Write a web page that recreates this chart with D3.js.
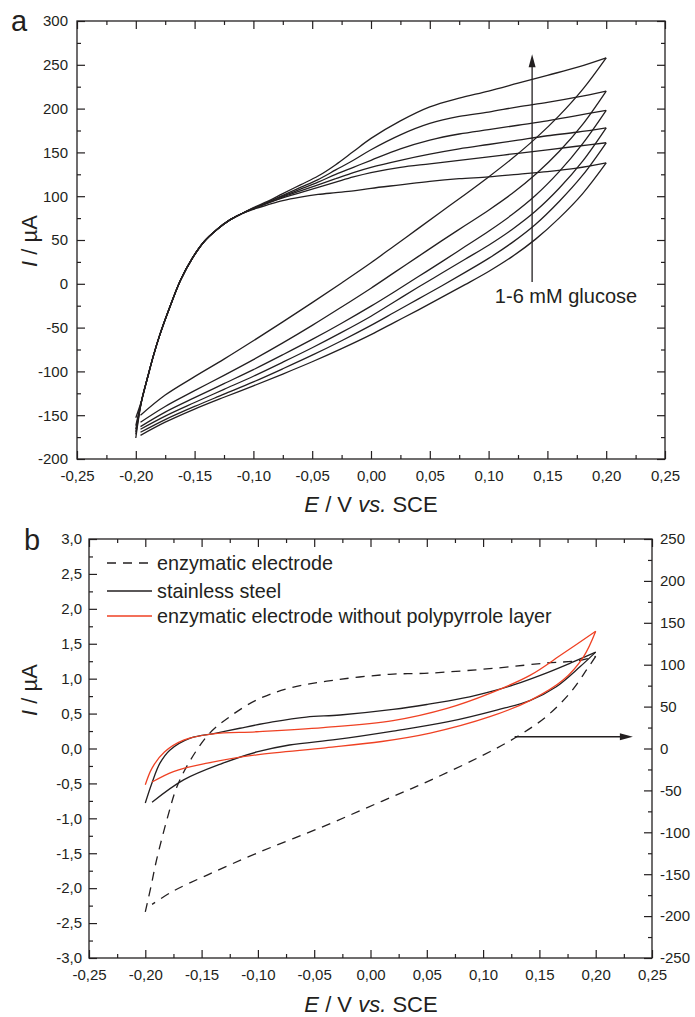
<!DOCTYPE html>
<html>
<head>
<meta charset="utf-8">
<script src="https://cdn.jsdelivr.net/npm/d3@7"></script>
<style>
  body{ margin:0; background:#fff; }
  text{ font-family:"Liberation Sans", Arial, sans-serif; fill:#231f20; }
</style>
</head>
<body>
<script>
// - - - - - DATA: panel a (6 CVs, 1-6 mM glucose) - - - - -
// forward scan (-0.2 -> 0.2 V)
var aUpE = [-0.2, -0.195, -0.19, -0.185, -0.18, -0.172, -0.162, -0.152, -0.142, -0.131, -0.12, -0.11,
            -0.1, -0.088, -0.075, -0.06, -0.045, -0.03, -0.015, 0, 0.025, 0.05, 0.075, 0.1, 0.125, 0.15, 0.175, 0.2];
var aUpStart = [-176, -172, -169, -166, -162, -153];
var aUpCommon = [-133, -107, -82, -60, -30, 4, 29, 48, 62, 73, 80];
var aUpTail = [
  [85, 90, 95, 99, 102, 104, 106, 109, 113, 117, 120, 122, 125, 128, 132, 138],
  [86, 92, 98, 104, 110, 116, 122, 127, 133, 137, 141, 145, 149, 153, 157, 161],
  [86, 92, 99, 106, 113, 120, 127, 133, 141, 148, 154, 159, 164, 169, 173, 178],
  [86, 93, 100, 108, 116, 125, 133, 141, 154, 164, 171, 176, 181, 186, 192, 198],
  [86, 93, 101, 110, 119, 130, 141, 153, 170, 183, 191, 196, 202, 207, 213, 220],
  [87, 94, 103, 113, 123, 136, 151, 166, 186, 202, 212, 220, 229, 238, 247, 258]
];
// reverse scan (0.2 -> -0.2 V)
var aDownE = [0.2, 0.18, 0.16, 0.14, 0.12, 0.1, 0.08, 0.06, 0.04, 0.02, 0, -0.025, -0.05, -0.075, -0.1, -0.125, -0.15, -0.175, -0.196];
var aDown = [
  [138, 103, 75, 51, 31, 14, -1, -15.5, -30, -44, -58, -74, -89, -103, -116.5, -129.5, -143, -158, -173],
  [161, 124, 94, 68, 47, 29, 13, -2.5, -17.5, -32.5, -47.5, -65, -81.5, -97, -112, -126, -140, -155, -169.5],
  [178, 140, 109, 83, 62, 44, 28, 12, -4, -20.5, -37, -55.5, -73, -89.5, -105.5, -120.5, -135.5, -151, -166],
  [198, 160, 128, 101, 79, 60, 42.5, 25, 8, -9, -25.5, -45, -63.5, -81, -98, -114, -130, -146.5, -163],
  [220, 182, 151, 125, 103, 84, 66.5, 49, 31, 13, -5, -26.5, -47.5, -67.5, -86.5, -104.5, -122, -140, -158],
  [258, 222, 192, 166, 143, 122, 102, 82.5, 63, 43.5, 24, 1, -21.5, -43.5, -65, -86, -106, -127, -150]
];

// - - - - - DATA: panel b - - - - -
// stainless steel (left axis, uA)
var steelUpE = [-0.2, -0.194, -0.187, -0.178, -0.16, -0.137, -0.116, -0.087, -0.057, -0.027, 0.02, 0.05, 0.082, 0.11, 0.127, 0.156, 0.18, 0.2];
var steelUp  = [-0.78, -0.49, -0.21, -0.02, 0.15, 0.22, 0.29, 0.38, 0.45, 0.48, 0.56, 0.63, 0.72, 0.83, 0.91, 1.08, 1.24, 1.38];
var steelDownE = [0.2, 0.186, 0.165, 0.142, 0.112, 0.068, 0.02, -0.03, -0.072, -0.101, -0.131, -0.166, -0.194];
var steelDown  = [1.38, 1.17, 0.885, 0.69, 0.55, 0.38, 0.25, 0.13, 0.05, -0.05, -0.21, -0.45, -0.77];
// enzymatic electrode without polypyrrole layer (left axis, uA)
var noPpyUpE = [-0.2, -0.194, -0.183, -0.166, -0.14, -0.101, -0.042, 0.02, 0.068, 0.106, 0.142, 0.171, 0.2];
var noPpyUp  = [-0.52, -0.28, -0.05, 0.12, 0.21, 0.24, 0.30, 0.40, 0.575, 0.79, 1.05, 1.36, 1.68];
var noPpyDownE = [0.2, 0.189, 0.171, 0.142, 0.106, 0.053, 0.01, -0.04, -0.101, -0.145, -0.175, -0.194];
var noPpyDown  = [1.68, 1.31, 0.98, 0.69, 0.455, 0.22, 0.10, 0.01, -0.09, -0.21, -0.33, -0.48];
// enzymatic electrode (right axis, uA)
var enzUpE = [-0.2, -0.195, -0.19, -0.18, -0.172, -0.16, -0.143, -0.125, -0.101, -0.072, -0.03, 0.017, 0.053, 0.112, 0.156, 0.186, 0.2];
var enzUp  = [-195, -165, -133, -81, -46, -14, 18, 38, 58, 72, 82, 88.5, 90, 96, 102, 105, 110];
var enzDownE = [0.2, 0.192, 0.177, 0.156, 0.13, 0.097, 0.053, 0.01, -0.04, -0.101, -0.145, -0.175, -0.194];
var enzDown  = [110, 94, 66, 38, 14, -10, -38, -63, -92, -125, -151, -170, -186];

var legendLabels = ["enzymatic electrode", "stainless steel", "enzymatic electrode without polypyrrole layer"];

// - - - - - TICKS - - - - -
var xMajor = [-0.25, -0.2, -0.15, -0.1, -0.05, 0, 0.05, 0.1, 0.15, 0.2, 0.25];
var xMinor = [-0.225, -0.175, -0.125, -0.075, -0.025, 0.025, 0.075, 0.125, 0.175, 0.225];
var yAMajor = [-200, -150, -100, -50, 0, 50, 100, 150, 200, 250, 300];
var yAMinor = [-175, -125, -75, -25, 25, 75, 125, 175, 225, 275];
var yBMajor = [-3, -2.5, -2, -1.5, -1, -0.5, 0, 0.5, 1, 1.5, 2, 2.5, 3];
var yBMinor = [-2.75, -2.25, -1.75, -1.25, -0.75, -0.25, 0.25, 0.75, 1.25, 1.75, 2.25, 2.75];
var yBRMajor = [-250, -200, -150, -100, -50, 0, 50, 100, 150, 200, 250];
var yBRMinor = [-225, -175, -125, -75, -25, 25, 75, 125, 175, 225];

// - - - - - CANVAS - - - - -
var W = 695, H = 1017;
var ink = "#231f20";
var red = "#ef4123";
var svg = d3.select("body").append("svg").attr("width", W).attr("height", H);

var fmtX = function(v){ return v.toFixed(2).replace(".", ","); };
var fmtB = function(v){ return v.toFixed(1).replace(".", ","); };
var fmtInt = function(v){ return String(v); };

// ticks inward, labelled major + unlabelled minor
function drawAxis(orient, scale, major, minor, fmt, tr, pad){
  var mk = {bottom:d3.axisBottom, top:d3.axisTop, left:d3.axisLeft, right:d3.axisRight}[orient];
  var g = svg.append("g").attr("transform", tr);
  g.append("g").call(mk(scale).tickValues(minor).tickSizeInner(-4).tickSizeOuter(0).tickFormat(""));
  g.append("g").call(mk(scale).tickValues(major).tickSizeInner(-8).tickSizeOuter(0)
    .tickPadding(pad || 0).tickFormat(fmt || ""));
  g.selectAll(".domain").remove();
  g.selectAll("line").attr("stroke", ink).attr("stroke-width", 1.2);
  g.selectAll("text").attr("font-size", 15).attr("font-family", "Liberation Sans, Arial, sans-serif").attr("fill", ink);
  return g;
}

function frame(x, y){
  svg.append("rect")
    .attr("x", x.range()[0]).attr("y", y.range()[1])
    .attr("width", x.range()[1] - x.range()[0]).attr("height", y.range()[0] - y.range()[1])
    .attr("fill", "none").attr("stroke", ink).attr("stroke-width", 1.3);
}

function xTitle(cx, yb){
  var t = svg.append("text").attr("x", cx).attr("y", yb).attr("text-anchor", "middle").attr("font-size", 22);
  t.append("tspan").attr("font-style", "italic").text("E");
  t.append("tspan").text(" / V ");
  t.append("tspan").attr("font-style", "italic").text("vs.");
  t.append("tspan").text(" SCE");
}
function yTitle(x, cy){
  var t = svg.append("text").attr("transform", "translate(" + x + "," + cy + ") rotate(-90)")
    .attr("text-anchor", "middle").attr("font-size", 22);
  t.append("tspan").attr("font-style", "italic").text("I");
  t.append("tspan").text(" / \u00b5A");
}

// - - - - - PANEL A - - - - -
var xA = d3.scaleLinear().domain([-0.25, 0.25]).range([77, 665]);
var yA = d3.scaleLinear().domain([-200, 300]).range([459, 21]);

drawAxis("bottom", xA, xMajor, xMinor, fmtX, "translate(0," + yA.range()[0] + ")", 11);
drawAxis("top", xA, xMajor, xMinor, null, "translate(0," + yA.range()[1] + ")");
drawAxis("left", yA, yAMajor, yAMinor, fmtInt, "translate(" + xA.range()[0] + ",0)", 9);
drawAxis("right", yA, yAMajor, yAMinor, null, "translate(" + xA.range()[1] + ",0)");
frame(xA, yA);

var lineA = d3.line().x(function(d){ return xA(d[0]); }).y(function(d){ return yA(d[1]); })
  .curve(d3.curveCatmullRom.alpha(0.5));

var cvA = svg.append("g").attr("fill", "none").attr("stroke", ink).attr("stroke-width", 1.3);
aUpTail.forEach(function(tail, i){
  var up = [aUpStart[i]].concat(aUpCommon, tail);
  cvA.append("path").attr("d", lineA(d3.zip(aUpE, up)));
  cvA.append("path").attr("d", lineA(d3.zip(aDownE, aDown[i])));
});

// arrow 1 -> 6 mM
var arrE = 0.137;
svg.append("line").attr("x1", xA(arrE)).attr("x2", xA(arrE)).attr("y1", yA(2)).attr("y2", yA(248))
  .attr("stroke", ink).attr("stroke-width", 1.3);
svg.append("path")
  .attr("d", "M" + xA(arrE) + "," + yA(262) + " l-3.5,13 l7,0 z").attr("fill", ink);
svg.append("text").attr("x", 566).attr("y", 303).attr("text-anchor", "middle").attr("font-size", 20)
  .text("1-6 mM glucose");

xTitle(371, 512);
yTitle(37, 241);
svg.append("text").attr("x", 11).attr("y", 31).attr("font-size", 29).text("a");

// - - - - - PANEL B - - - - -
var xB = d3.scaleLinear().domain([-0.25, 0.25]).range([89, 652]);
var yB = d3.scaleLinear().domain([-3, 3]).range([958, 539]);
var yBR = d3.scaleLinear().domain([-250, 250]).range([958, 539]);

drawAxis("bottom", xB, xMajor, xMinor, fmtX, "translate(0," + yB.range()[0] + ")", 11);
drawAxis("top", xB, xMajor, xMinor, null, "translate(0," + yB.range()[1] + ")");
drawAxis("left", yB, yBMajor, yBMinor, fmtB, "translate(" + xB.range()[0] + ",0)", 7);
drawAxis("right", yBR, yBRMajor, yBRMinor, fmtInt, "translate(" + xB.range()[1] + ",0)", 8);
frame(xB, yB);

var lineB = d3.line().x(function(d){ return xB(d[0]); }).y(function(d){ return yB(d[1]); })
  .curve(d3.curveCatmullRom.alpha(0.5));
var lineBR = d3.line().x(function(d){ return xB(d[0]); }).y(function(d){ return yBR(d[1]); })
  .curve(d3.curveCatmullRom.alpha(0.5));

var cvB = svg.append("g").attr("fill", "none").attr("stroke-width", 1.3);
cvB.append("path").attr("d", lineBR(d3.zip(enzUpE, enzUp))).attr("stroke", ink).attr("stroke-dasharray", "9,7");
cvB.append("path").attr("d", lineBR(d3.zip(enzDownE, enzDown))).attr("stroke", ink).attr("stroke-dasharray", "9,7");
cvB.append("path").attr("d", lineB(d3.zip(steelUpE, steelUp))).attr("stroke", ink);
cvB.append("path").attr("d", lineB(d3.zip(steelDownE, steelDown))).attr("stroke", ink);
cvB.append("path").attr("d", lineB(d3.zip(noPpyUpE, noPpyUp))).attr("stroke", red);
cvB.append("path").attr("d", lineB(d3.zip(noPpyDownE, noPpyDown))).attr("stroke", red);

// arrow to the right axis
var arrY = yBR(14);
svg.append("line").attr("x1", xB(0.128)).attr("x2", xB(0.222)).attr("y1", arrY).attr("y2", arrY)
  .attr("stroke", ink).attr("stroke-width", 1.3);
svg.append("path").attr("d", "M" + xB(0.233) + "," + arrY + " l-13,-3.5 l0,7 z").attr("fill", ink);

// legend
var legY = [563, 591, 616];
var legStyle = [{c: ink, dash: "9,7"}, {c: ink, dash: null}, {c: red, dash: null}];
legendLabels.forEach(function(l, i){
  svg.append("line").attr("x1", 107).attr("x2", 152).attr("y1", legY[i]).attr("y2", legY[i])
    .attr("stroke", legStyle[i].c).attr("stroke-width", 1.3).attr("stroke-dasharray", legStyle[i].dash);
  svg.append("text").attr("x", 157).attr("y", legY[i] + 7).attr("font-size", 19.8).text(l);
});

xTitle(371, 1012);
yTitle(37, 690);
svg.append("text").attr("x", 24).attr("y", 550).attr("font-size", 29).text("b");
</script>
</body>
</html>
